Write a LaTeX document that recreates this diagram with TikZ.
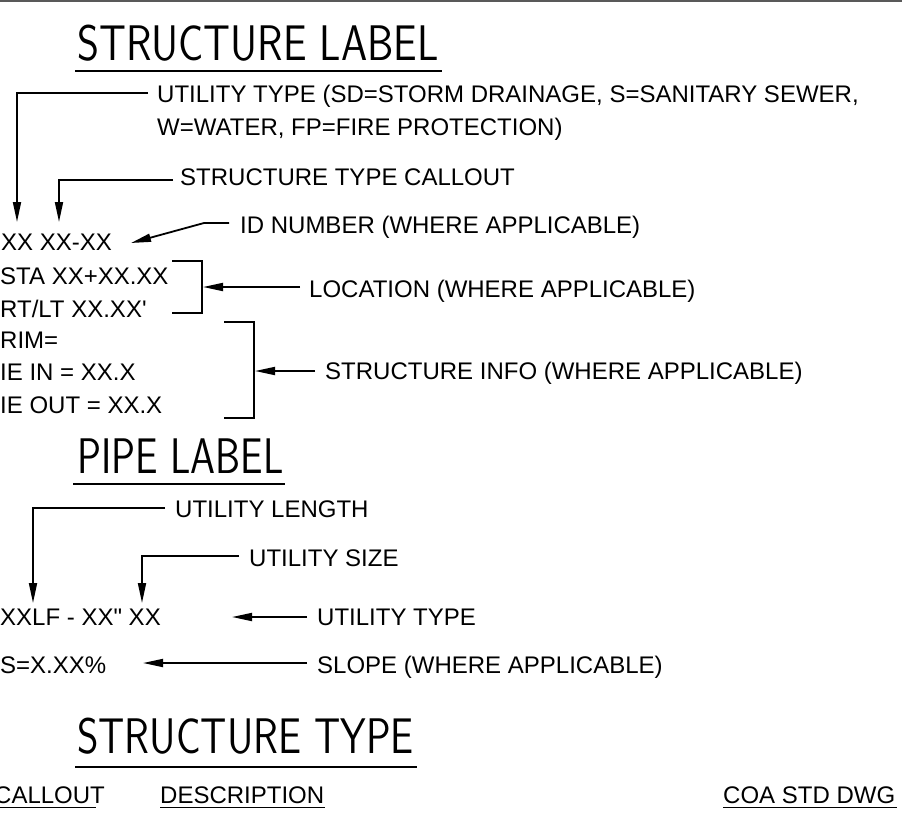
\documentclass[tikz,border=0pt]{standalone}
\usepackage{fontspec}
\setmainfont{Liberation Sans}[Ligatures=TeXOff]
\usetikzlibrary{arrows.meta}
\begin{document}
\begin{tikzpicture}[x=1pt,y=-1pt,
  txt/.style={anchor=base west,inner sep=0pt,font=\fontsize{24}{28}\selectfont},
  ttl/.style={anchor=base west,inner sep=0pt,font=\sffamily\fontsize{50}{56}\selectfont},
  ldr/.style={line width=1.8pt},
  arr/.style={line width=1.8pt,-{Triangle[length=20pt,width=8pt]}},
  uline/.style={line width=2pt},
  brk/.style={line width=1.8pt}]
\useasboundingbox (0,0) rectangle (915,825);
% top rule
\coordinate (tl) at (0,1);
\coordinate (tr) at (902,1);
\draw[line width=1.5pt,black!65] (tl) -- (tr);

% STRUCTURE LABEL
\node[ttl] (t1) at (77,60) {\scalebox{0.84}[1]{STRUCTURE LABEL}};
\coordinate (u1a) at (75,71); \coordinate (u1b) at (442,71);
\draw[uline] (u1a) -- (u1b);

\node[txt] (ut1) at (157,102) {UTILITY TYPE (SD=STORM DRAINAGE, S=SANITARY SEWER,};
\node[txt] (ut2) at (157,135) {W=WATER, FP=FIRE PROTECTION)};
\node[txt] (stc) at (180,185) {STRUCTURE TYPE CALLOUT};
\node[txt] (idn) at (240,233) {ID NUMBER (WHERE APPLICABLE)};
\node[txt] (xx) at (1,250) {XX XX-XX};
\node[txt] (sta) at (0,284) {STA XX+XX.XX};
\node[txt] (rtlt) at (0,317) {RT/LT XX.XX'};
\node[txt] (loc) at (309,297) {LOCATION (WHERE APPLICABLE)};
\node[txt] (rim) at (0,348) {RIM=};
\node[txt] (iein) at (0,380) {IE IN = XX.X};
\node[txt] (ieout) at (0,413) {IE OUT = XX.X};
\node[txt] (sinfo) at (325,379) {STRUCTURE INFO (WHERE APPLICABLE)};

% leaders structure label
\coordinate (a1s) at (148,93); \coordinate (a1t) at (17,222);
\draw[arr] (a1s) -| (a1t);
\coordinate (a2s) at (173,180); \coordinate (a2t) at (59,222);
\draw[arr] (a2s) -| (a2t);
\coordinate (a3s) at (229,223); \coordinate (a3m) at (204,223); \coordinate (a3t) at (131,243);
\draw[arr] (a3s) -- (a3m) -- (a3t);
% bracket 1
\coordinate (b1a) at (172,261); \coordinate (b1b) at (202,261);
\coordinate (b1c) at (202,313); \coordinate (b1d) at (172,313);
\draw[brk] (b1a) -- (b1b) -- (b1c) -- (b1d);
\coordinate (a4s) at (300,287); \coordinate (a4t) at (203,287);
\draw[arr] (a4s) -- (a4t);
% bracket 2
\coordinate (b2a) at (224,322); \coordinate (b2b) at (254,322);
\coordinate (b2c) at (254,418); \coordinate (b2d) at (224,418);
\draw[brk] (b2a) -- (b2b) -- (b2c) -- (b2d);
\coordinate (a5s) at (315,371); \coordinate (a5t) at (255,371);
\draw[arr] (a5s) -- (a5t);

% PIPE LABEL
\node[ttl] (t2) at (77,473) {\scalebox{0.80}[1]{PIPE LABEL}};
\coordinate (u2a) at (73,484); \coordinate (u2b) at (285,484);
\draw[uline] (u2a) -- (u2b);

\node[txt] (ulen) at (175,517) {UTILITY LENGTH};
\node[txt] (usize) at (249,566) {UTILITY SIZE};
\node[txt] (pipe) at (0,625) {XXLF - XX" XX};
\node[txt] (utype) at (317,625) {UTILITY TYPE};
\node[txt] (slp) at (0,673) {S=X.XX\%};
\node[txt] (slope) at (317,673) {SLOPE (WHERE APPLICABLE)};

\coordinate (a6s) at (165,508); \coordinate (a6t) at (33,603);
\draw[arr] (a6s) -| (a6t);
\coordinate (a7s) at (239,556); \coordinate (a7t) at (142,603);
\draw[arr] (a7s) -| (a7t);
\coordinate (a8s) at (307,617); \coordinate (a8t) at (232,617);
\draw[arr] (a8s) -- (a8t);
\coordinate (a9s) at (307,663); \coordinate (a9t) at (143,663);
\draw[arr] (a9s) -- (a9t);

% STRUCTURE TYPE
\node[ttl] (t3) at (77,753) {\scalebox{0.82}[1]{STRUCTURE TYPE}};
\coordinate (u3a) at (75,767); \coordinate (u3b) at (417,767);
\draw[uline] (u3a) -- (u3b);

\node[txt] (call) at (-6,803) {CALLOUT};
\node[txt] (desc) at (160,803) {DESCRIPTION};
\node[txt] (coa) at (723,803) {COA STD DWG};
\coordinate (u4a) at (0,807.5); \coordinate (u4b) at (96,807.5);
\draw[line width=1.8pt] (u4a) -- (u4b);
\coordinate (u5a) at (160,807.5); \coordinate (u5b) at (325,807.5);
\draw[line width=1.8pt] (u5a) -- (u5b);
\coordinate (u6a) at (723,807.5); \coordinate (u6b) at (897,807.5);
\draw[line width=1.8pt] (u6a) -- (u6b);
\end{tikzpicture}
\end{document}
